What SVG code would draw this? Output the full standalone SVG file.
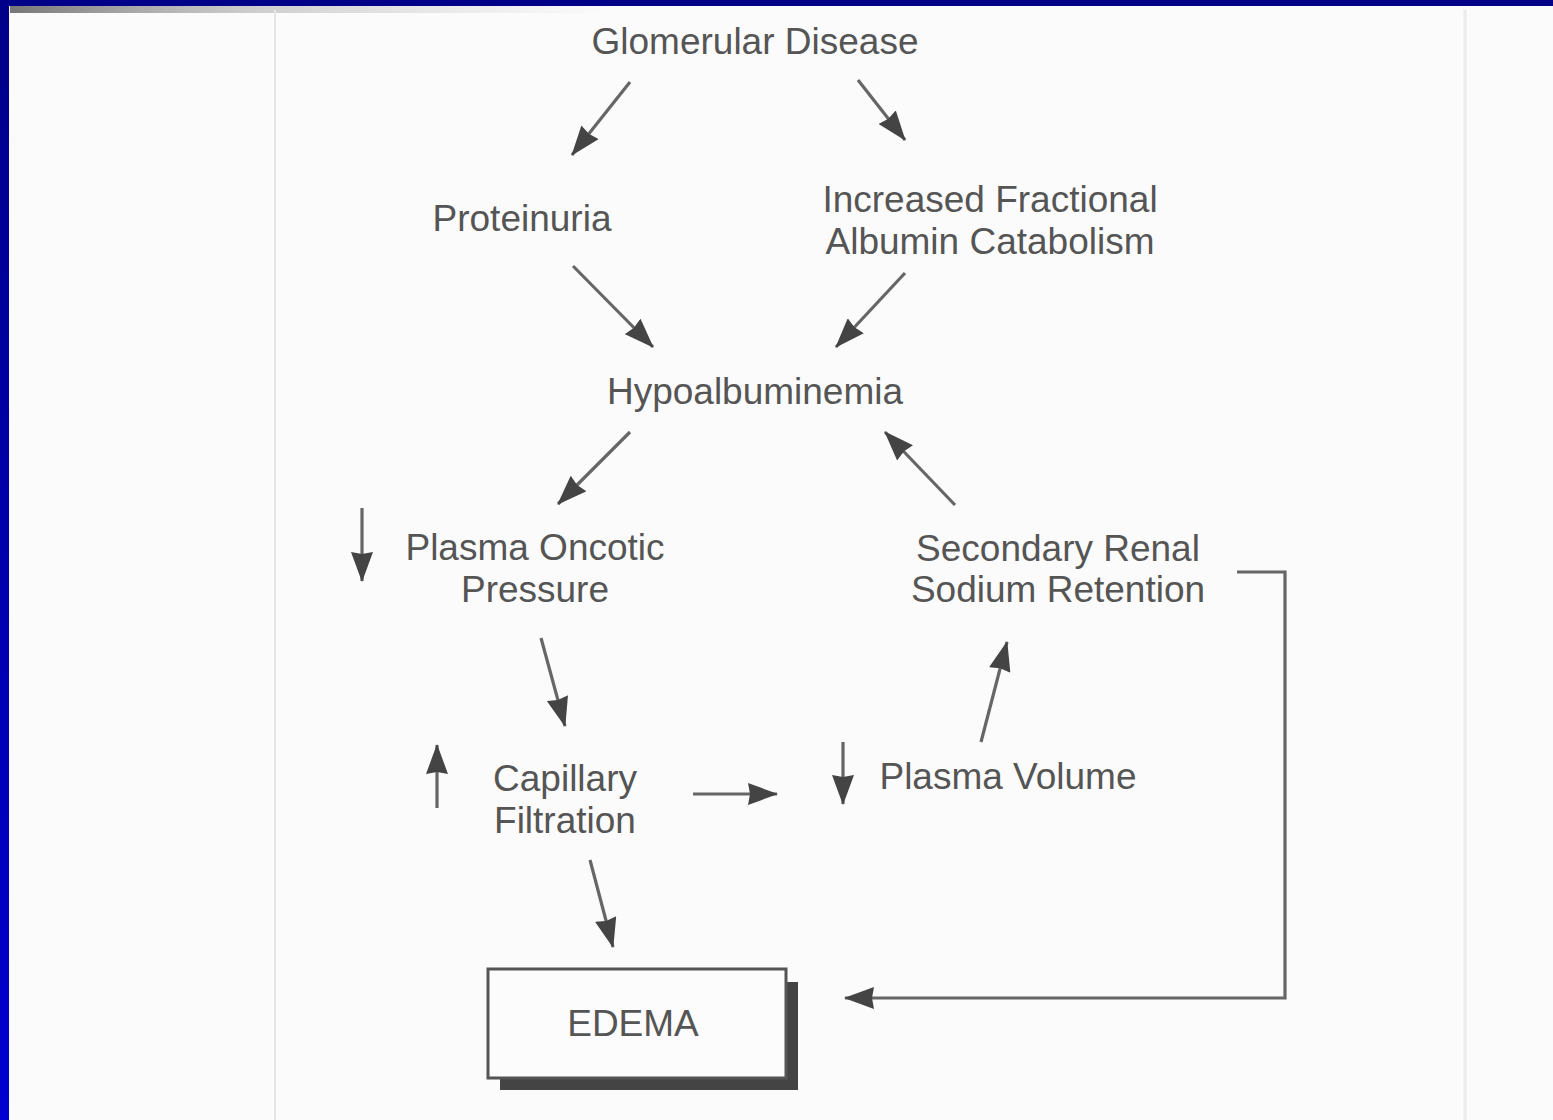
<svg xmlns="http://www.w3.org/2000/svg" width="1553" height="1120" viewBox="0 0 1553 1120">
<defs>
<linearGradient id="blueL" x1="0" y1="0" x2="0" y2="1">
<stop offset="0" stop-color="#000088"/>
<stop offset="1" stop-color="#0000d0"/>
</linearGradient>
<linearGradient id="smudge" x1="0" y1="0" x2="1" y2="0">
<stop offset="0" stop-color="#555" stop-opacity="0.8"/>
<stop offset="0.4" stop-color="#888" stop-opacity="0.4"/>
<stop offset="1" stop-color="#aaa" stop-opacity="0"/>
</linearGradient>
<marker id="ah" viewBox="0 0 30 22" markerWidth="30" markerHeight="22" refX="29" refY="11" orient="auto" markerUnits="userSpaceOnUse">
<path d="M0,0 L30,11 L0,22 L2,11 z" fill="#444"/>
</marker>
<style>
.t{font-family:"Liberation Sans",Arial,Helvetica,sans-serif;font-size:37px;fill:#555;text-anchor:middle}
.c{stroke:#666;stroke-width:3.2;fill:none;marker-end:url(#ah)}
</style>
</defs>
<rect x="0" y="0" width="1553" height="1120" fill="#f9f9f9"/>
<rect x="10" y="6" width="1543" height="1114" fill="#fbfbfb"/>
<rect x="10" y="6" width="600" height="7" fill="url(#smudge)"/>
<line x1="275" y1="10" x2="275" y2="1120" stroke="#e6e6e6" stroke-width="2"/>
<line x1="1465" y1="10" x2="1465" y2="1120" stroke="#ececec" stroke-width="3"/>
<rect x="0" y="0" width="1553" height="6" fill="#000088"/>
<rect x="0" y="0" width="9" height="1120" fill="url(#blueL)"/>

<g id="connectors">
<line class="c" x1="630" y1="82" x2="572" y2="155"/>
<line class="c" x1="858" y1="80" x2="905" y2="140"/>
<line class="c" x1="573" y1="266" x2="653" y2="347"/>
<line class="c" x1="905" y1="273" x2="836" y2="347"/>
<line class="c" x1="630" y1="432" x2="558" y2="504"/>
<line class="c" x1="955" y1="505" x2="885" y2="432"/>
<line class="c" x1="541" y1="638" x2="565" y2="726"/>
<line class="c" x1="981" y1="742" x2="1007" y2="642"/>
<line class="c" x1="693" y1="794" x2="777" y2="794"/>
<line class="c" x1="362" y1="508" x2="362" y2="581"/>
<line class="c" x1="437" y1="808" x2="437" y2="745"/>
<line class="c" x1="843" y1="742" x2="843" y2="804"/>
<line class="c" x1="590" y1="860" x2="613" y2="947"/>
<polyline class="c" points="1237,572 1285,572 1285,998 845,998"/>
</g>

<g id="glomerular"><text class="t" x="755" y="54">Glomerular Disease</text></g>
<g id="proteinuria"><text class="t" x="522" y="231">Proteinuria</text></g>
<g id="catabolism"><text class="t" x="990" y="212">Increased Fractional</text><text class="t" x="990" y="254">Albumin Catabolism</text></g>
<g id="hypoalbuminemia"><text class="t" x="755" y="404">Hypoalbuminemia</text></g>
<g id="oncotic"><text class="t" x="535" y="560">Plasma Oncotic</text><text class="t" x="535" y="602">Pressure</text></g>
<g id="sodium"><text class="t" x="1058" y="561">Secondary Renal</text><text class="t" x="1058" y="602">Sodium Retention</text></g>
<g id="capillary"><text class="t" x="565" y="791">Capillary</text><text class="t" x="565" y="833">Filtration</text></g>
<g id="volume"><text class="t" x="1008" y="789">Plasma Volume</text></g>
<g id="edema">
<rect x="786" y="982" width="12" height="108" fill="#444"/>
<rect x="500" y="1078" width="298" height="12" fill="#444"/>
<rect x="488" y="969" width="298" height="109" fill="#fcfcfc" stroke="#555" stroke-width="3"/>
<text class="t" x="633" y="1036">EDEMA</text>
</g>
</svg>
